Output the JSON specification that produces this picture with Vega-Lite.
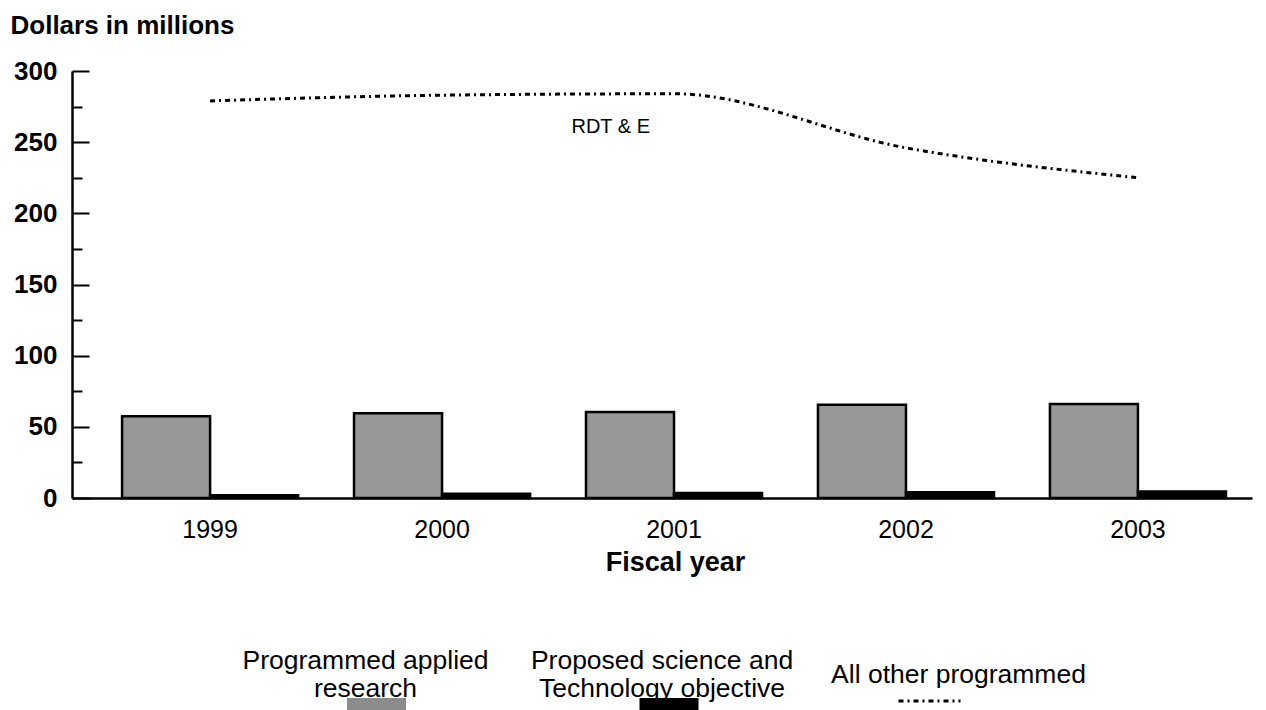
{
  "$schema": "https://vega.github.io/schema/vega-lite/v6.json",
  "background": "white",
  "padding": {"left": 10, "top": 12, "right": 10, "bottom": 0},
  "config": {
    "font": "Liberation Sans",
    "view": {"stroke": null},
    "axis": {"labelColor": "black", "titleColor": "black", "domainColor": "black", "tickColor": "black", "grid": false}
  },
  "datasets": {
    "bars": [
      {"year": "1999", "series": "Programmed applied research", "value": 57.5},
      {"year": "1999", "series": "Proposed science and Technology objective", "value": 2},
      {"year": "2000", "series": "Programmed applied research", "value": 59.5},
      {"year": "2000", "series": "Proposed science and Technology objective", "value": 3},
      {"year": "2001", "series": "Programmed applied research", "value": 60.5},
      {"year": "2001", "series": "Proposed science and Technology objective", "value": 3.5},
      {"year": "2002", "series": "Programmed applied research", "value": 65.5},
      {"year": "2002", "series": "Proposed science and Technology objective", "value": 4},
      {"year": "2003", "series": "Programmed applied research", "value": 66},
      {"year": "2003", "series": "Proposed science and Technology objective", "value": 4.5}
    ],
    "rdte": [
      {"year": "1999", "program": "RDT & E", "value": 279},
      {"year": "2000", "program": "RDT & E", "value": 283},
      {"year": "2001", "program": "RDT & E", "value": 284},
      {"year": "2002", "program": "RDT & E", "value": 246},
      {"year": "2003", "program": "RDT & E", "value": 225}
    ],
    "annot": [
      {"year": "2001", "value": 261, "text": "RDT & E"}
    ],
    "legend": [
      {"item": "Programmed applied research", "row": "line1", "kind": "text", "text": "Programmed applied"},
      {"item": "Programmed applied research", "row": "line2", "kind": "text", "text": "research"},
      {"item": "Proposed science and Technology objective", "row": "line1", "kind": "text", "text": "Proposed science and"},
      {"item": "Proposed science and Technology objective", "row": "line2", "kind": "text", "text": "Technology objective"},
      {"item": "All other programmed", "row": "mid", "kind": "text", "text": "All other programmed"},
      {"item": "Programmed applied research", "row": "swatch", "kind": "gray", "text": ""},
      {"item": "Proposed science and Technology objective", "row": "swatch", "kind": "black", "text": ""},
      {"item": "All other programmed", "row": "swatch", "kind": "line", "text": ""}
    ]
  },
  "spacing": 66,
  "vconcat": [
    {
      "width": 1180,
      "height": 427,
      "layer": [
        {
          "data": {"name": "bars"},
          "mark": {"type": "bar", "stroke": "black", "strokeWidth": 2.5},
          "encoding": {
            "x": {
              "field": "year", "type": "ordinal",
              "scale": {"paddingInner": 0.241, "paddingOuter": 0.164, "align": 0.658},
              "axis": {
                "title": "Fiscal year", "labelAngle": 0, "labelFontSize": 25, "labelPadding": 19,
                "ticks": false, "domainWidth": 2.5, "titleFontSize": 27, "titleFontWeight": "bold", "titlePadding": 7,
                "titleX": 603
              }
            },
            "xOffset": {
              "field": "series", "type": "nominal",
              "sort": ["Programmed applied research", "Proposed science and Technology objective"],
              "scale": {"paddingInner": 0, "paddingOuter": 0}
            },
            "y": {
              "field": "value", "type": "quantitative",
              "scale": {"domain": [0, 300]},
              "axis": {
                "values": [0, 25, 50, 75, 100, 125, 150, 175, 200, 225, 250, 275, 300],
                "tickCount": 20,
                "labelExpr": "datum.value % 50 === 0 ? datum.label : ''",
                "tickSize": -17,
                "tickDash": {"condition": {"test": "datum.value % 50 !== 0", "value": [10, 40]}, "value": [17, 40]},
                "tickWidth": 2,
                "domainWidth": 2.5,
                "labelFontSize": 26, "labelFontWeight": "bold", "labelPadding": 32,
                "title": "Dollars in millions", "titleAngle": 0, "titleAlign": "left", "titleBaseline": "alphabetic",
                "titleX": -62, "titleY": -38, "titleFontSize": 26, "titleFontWeight": "bold"
              }
            },
            "fill": {
              "field": "series", "type": "nominal",
              "scale": {"domain": ["Programmed applied research", "Proposed science and Technology objective"], "range": ["#989898", "#000000"]},
              "legend": null
            }
          }
        },
        {
          "data": {"name": "rdte"},
          "mark": {"type": "line", "interpolate": "monotone", "color": "black", "strokeWidth": 3, "strokeDash": [5, 4, 2, 4]},
          "encoding": {
            "x": {"field": "year", "type": "ordinal"},
            "y": {"field": "value", "type": "quantitative"}
          }
        },
        {
          "data": {"name": "annot"},
          "mark": {"type": "text", "align": "right", "baseline": "middle", "dx": -24, "fontSize": 20, "color": "black"},
          "encoding": {
            "x": {"field": "year", "type": "ordinal"},
            "y": {"field": "value", "type": "quantitative"},
            "text": {"field": "text"}
          }
        }
      ]
    },
    {
      "width": 1180,
      "height": 70,
      "data": {"name": "legend"},
      "encoding": {
        "x": {
          "field": "item", "type": "nominal",
          "scale": {"type": "point", "domain": ["Programmed applied research", "Proposed science and Technology objective", "All other programmed"], "padding": 0.99, "align": 0.5},
          "axis": null
        },
        "y": {
          "field": "row", "type": "ordinal",
          "scale": {"type": "point", "domain": ["line1", "mid", "line2", "swatch"], "padding": 1, "align": 0.714},
          "axis": null
        }
      },
      "layer": [
        {
          "transform": [{"filter": "datum.kind === 'text'"}],
          "mark": {"type": "text", "fontSize": 26.5, "align": "center", "baseline": "middle", "color": "black"},
          "encoding": {"text": {"field": "text"}}
        },
        {
          "transform": [{"filter": "datum.kind === 'gray'"}],
          "mark": {"type": "point", "shape": "M-1,-0.17H1V0.27H-1Z", "size": 3481, "filled": true, "fill": "#8c8c8c", "strokeWidth": 0, "opacity": 1, "xOffset": 11}
        },
        {
          "transform": [{"filter": "datum.kind === 'black'"}],
          "mark": {"type": "point", "shape": "M-1,-0.17H1V0.27H-1Z", "size": 3481, "filled": true, "fill": "#000000", "strokeWidth": 0, "opacity": 1, "xOffset": 7}
        },
        {
          "transform": [{"filter": "datum.kind === 'line'"}],
          "mark": {"type": "point", "shape": "M-1,0H1", "size": 3844, "filled": false, "stroke": "black", "strokeWidth": 3, "strokeDash": [5, 4, 2, 4], "opacity": 1, "xOffset": -29, "yOffset": -2}
        }
      ]
    }
  ]
}
